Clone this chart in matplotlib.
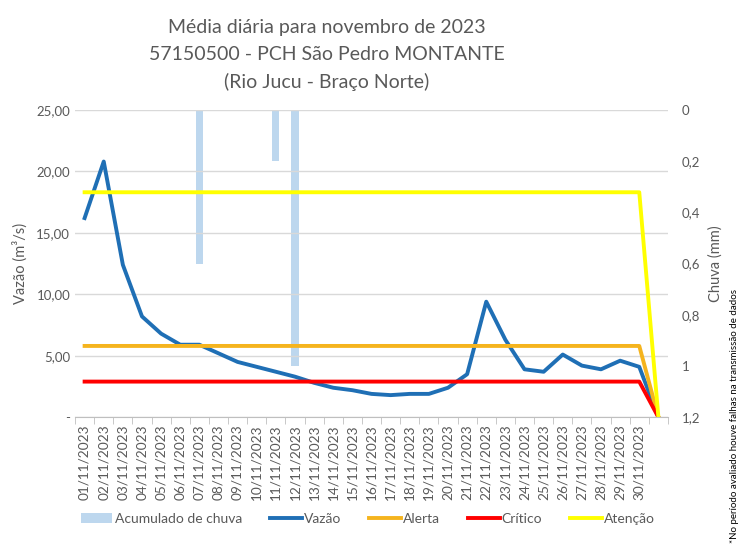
import matplotlib.pyplot as plt
import numpy as np

plt.rcParams['font.family'] = ['Lato', 'DejaVu Sans']

datas = ['%02d/11/2023' % d for d in range(1, 31)] + ['']
vazao = [16.2, 20.8, 12.4, 8.2, 6.8, 5.9, 5.9, 5.2, 4.5, 4.1, 3.7, 3.3, 2.8, 2.4, 2.2,
         1.9, 1.8, 1.9, 1.9, 2.4, 3.5, 9.4, 6.3, 3.9, 3.7, 5.1, 4.2, 3.9, 4.6, 4.1, 0]
alerta = [5.8] * 30 + [0]
critico = [2.9] * 30 + [0]
atencao = [18.3] * 30 + [0]
chuva = [0, 0, 0, 0, 0, 0, 0.6, 0, 0, 0, 0.2, 1.0, 0, 0, 0,
         0, 0, 0, 0, 0, 0, 0, 0, 0, 0, 0, 0, 0, 0, 0, 0]

cinza = '#595959'
x = np.arange(len(datas))

fig = plt.figure(figsize=(7.43, 5.44), dpi=100)
ax = fig.add_axes([0.101, 0.233, 0.798, 0.565])
ax2 = ax.twinx()
ax.set_zorder(ax2.get_zorder() + 1)
ax.patch.set_visible(False)

# chuva no eixo secundario (invertido)
ax2.bar(x, chuva, width=0.37, color='#BDD7EE', label='Acumulado de chuva')
ax2.set_ylim(1.2, 0)
ax2.set_yticks([0, 0.2, 0.4, 0.6, 0.8, 1.0, 1.2])
ax2.set_yticklabels(['0', '0,2', '0,4', '0,6', '0,8', '1', '1,2'])
ax2.set_ylabel('Chuva (mm)', color=cinza, fontsize=10.5, labelpad=6)

ax.plot(x, vazao, color='#1F6FB5', lw=2.8, label='Vazão')
ax.plot(x, alerta, color='#F5B41E', lw=2.8, label='Alerta')
ax.plot(x, critico, color='#FF0000', lw=2.8, label='Crítico')
ax.plot(x, atencao, color='#FFFF00', lw=2.8, label='Atenção')

ax.set_ylim(0, 25)
ax.set_yticks([0, 5, 10, 15, 20, 25])
ax.set_yticklabels(['-', '5,00', '10,00', '15,00', '20,00', '25,00'])
ax.set_ylabel('Vazão (m³/s)', color=cinza, fontsize=10.5, labelpad=6)
ax.set_xlim(-0.5, len(datas) - 0.5)
ax.set_xticks(x)
ax.set_xticklabels(datas, rotation=90)
ax.set_xticks(np.arange(-0.5, len(datas)), minor=True)
ax.tick_params(axis='x', which='major', length=0, pad=5)
ax.tick_params(axis='x', which='minor', length=5, color='#BFBFBF', direction='out')
ax2.yaxis.grid(False)
ax.yaxis.grid(True, color='#D9D9D9', lw=1)
ax.set_axisbelow(True)

for a in (ax, ax2):
    a.tick_params(axis='y', length=0, labelsize=9.5, labelcolor=cinza)
    for s in a.spines.values():
        s.set_visible(False)
ax.spines['bottom'].set_visible(True)
ax.spines['bottom'].set_color('#BFBFBF')
ax.tick_params(axis='x', labelsize=9.8, labelcolor=cinza)
ax2.tick_params(axis='y', pad=10)

fig.suptitle('Média diária para novembro de 2023\n57150500 - PCH São Pedro MONTANTE\n(Rio Jucu - Braço Norte)',
             x=0.44, y=0.965, fontsize=14, color=cinza, linespacing=1.7)

h1, l1 = ax2.get_legend_handles_labels()
h2, l2 = ax.get_legend_handles_labels()
fig.legend(h1 + h2, l1 + l2, loc='center', bbox_to_anchor=(0.495, 0.046), ncol=5,
           frameon=False, fontsize=10, labelcolor=cinza, handlelength=2.3,
           handletextpad=0.15, columnspacing=2.0)

fig.text(0.989, 0.235, '*No período avaliado houve falhas na transmissão de dados',
         rotation=90, fontsize=7, ha='center', va='center')

fig.savefig('out.png', dpi=100)
